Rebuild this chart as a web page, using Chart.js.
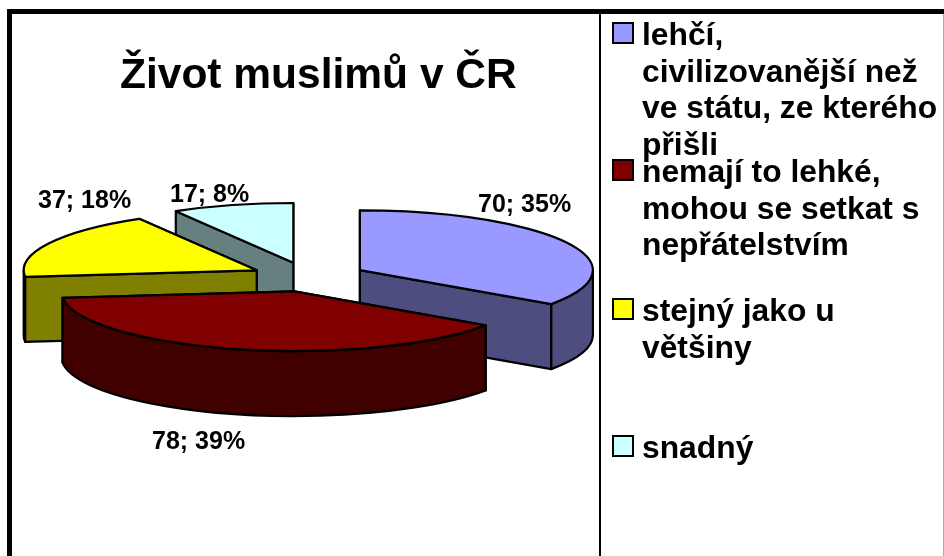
<!DOCTYPE html>
<html>
<head>
<meta charset="utf-8">
<title>Život muslimů v ČR</title>
<script src="https://cdn.jsdelivr.net/npm/chart.js@4"></script>
<style>
  html, body { margin: 0; padding: 0; background: #fff; }
  canvas { display: block; }
</style>
</head>
<body>
<canvas id="myChart" width="944" height="556"></canvas>
<script>
const chartTitle = 'Život muslimů v ČR';
const categories = [
  ['lehčí,', 'civilizovanější než', 've státu, ze kterého', 'přišli'],
  ['nemají to lehké,', 'mohou se setkat s', 'nepřátelstvím'],
  ['stejný jako u', 'většiny'],
  ['snadný']
];
const values = [70, 78, 37, 17];
const topColors = ['#9999FF', '#800000', '#FFFF00', '#CCFFFF'];
const wallColors = ['#4D4D80', '#400000', '#808000', '#668080'];

const total = values.reduce((a, b) => a + b, 0);
const font = '"Liberation Sans", Arial, sans-serif';

// squash factor, height and explosion of the fake 3d pie
const tilt = 0.256;
const depth = 65;
const explode = 58;

// where the labels sit, same order as values
const labelAnchors = [[478, 212], [152, 449], [38, 208], [170, 202]];
const legendRows = [45, 182, 321, 458];

function sliceInfo(arc) {
  const { x, y, startAngle, endAngle, outerRadius } = arc.getProps(['x', 'y', 'startAngle', 'endAngle', 'outerRadius']);
  const mid = (startAngle + endAngle) / 2;
  return {
    dx: Math.cos(mid) * explode,
    dy: Math.sin(mid) * explode * tilt,
    cx: x + Math.cos(mid) * explode,
    cy: y + Math.sin(mid) * explode * tilt,
    pivot: y,
    r: outerRadius,
    a0: startAngle,
    a1: endAngle
  };
}

function rim(s, a) {
  return [s.cx + Math.cos(a) * s.r, s.cy + Math.sin(a) * s.r * tilt];
}

function radialWall(ctx, s, a, color) {
  const p = rim(s, a);
  ctx.beginPath();
  ctx.moveTo(s.cx, s.cy);
  ctx.lineTo(p[0], p[1]);
  ctx.lineTo(p[0], p[1] + depth);
  ctx.lineTo(s.cx, s.cy + depth);
  ctx.closePath();
  ctx.fillStyle = color;
  ctx.fill();
  ctx.stroke();
}

function outerWall(ctx, s, color) {
  // only the part of the rim facing us, angles 0..PI on screen
  const from = Math.max(s.a0, 0);
  const to = Math.min(s.a1, Math.PI);
  if (to <= from) return;
  ctx.beginPath();
  ctx.ellipse(s.cx, s.cy, s.r, s.r * tilt, 0, from, to);
  ctx.ellipse(s.cx, s.cy + depth, s.r, s.r * tilt, 0, to, from, true);
  ctx.closePath();
  ctx.fillStyle = color;
  ctx.fill();
  ctx.stroke();
}

const pie3d = {
  id: 'pie3d',
  beforeDatasetDraw(chart) {
    const { ctx } = chart;
    const arcs = chart.getDatasetMeta(0).data;
    const slices = arcs.map(sliceInfo);
    const backToFront = [3, 2, 0, 1];

    ctx.save();
    ctx.lineWidth = 2.2;
    ctx.strokeStyle = '#000';
    ctx.lineJoin = 'round';

    backToFront.forEach(i => {
      const s = slices[i];
      const faces = [s.a0, s.a1].sort((a, b) => rim(s, a)[1] - rim(s, b)[1]);
      faces.forEach(a => radialWall(ctx, s, a, wallColors[i]));
      outerWall(ctx, s, wallColors[i]);
    });

    backToFront.forEach(i => {
      const s = slices[i];
      // top face is the normal chart.js arc, flattened and moved out
      ctx.save();
      ctx.translate(s.dx, s.pivot + s.dy);
      ctx.scale(1, tilt);
      ctx.translate(0, -s.pivot);
      arcs[i].draw(ctx);
      ctx.restore();

      // outline here so the line width stays even after flattening
      ctx.beginPath();
      ctx.moveTo(s.cx, s.cy);
      ctx.ellipse(s.cx, s.cy, s.r, s.r * tilt, 0, s.a0, s.a1);
      ctx.closePath();
      ctx.stroke();
    });
    ctx.restore();
    return false;
  },
  afterDraw(chart) {
    const { ctx } = chart;
    ctx.save();

    // frame and divider
    ctx.fillStyle = '#000';
    ctx.fillRect(7, 9, 937, 5);
    ctx.fillRect(7, 9, 5, 547);
    ctx.fillRect(599, 9, 2, 547);
    ctx.fillStyle = '#aaa';
    ctx.fillRect(943, 14, 1, 542);

    ctx.fillStyle = '#000';
    ctx.textBaseline = 'alphabetic';
    ctx.textAlign = 'left';

    ctx.font = 'bold 42.5px ' + font;
    ctx.fillText(chartTitle, 120, 88);

    ctx.font = 'bold 25px ' + font;
    values.forEach((v, i) => {
      const pct = Math.round(v / total * 100);
      ctx.fillText(v + '; ' + pct + '%', labelAnchors[i][0], labelAnchors[i][1]);
    });

    ctx.font = 'bold 31.8px ' + font;
    categories.forEach((lines, i) => {
      const base = legendRows[i];
      ctx.fillStyle = topColors[i];
      ctx.strokeStyle = '#000';
      ctx.lineWidth = 2;
      ctx.fillRect(613, base - 22, 20, 20);
      ctx.strokeRect(613, base - 22, 20, 20);
      ctx.fillStyle = '#000';
      lines.forEach((line, n) => ctx.fillText(line, 642, base + n * 36.6));
    });
    ctx.restore();
  }
};

new Chart(document.getElementById('myChart'), {
  type: 'pie',
  data: {
    labels: categories.map(c => c.join(' ')),
    datasets: [{
      data: values,
      backgroundColor: topColors,
      borderWidth: 0
    }]
  },
  options: {
    responsive: false,
    animation: false,
    radius: 233,
    layout: { padding: { left: 8, right: 335, top: 0, bottom: 2 } },
    plugins: {
      legend: { display: false },
      title: { display: false },
      tooltip: { enabled: false }
    }
  },
  plugins: [pie3d]
});
</script>
</body>
</html>
